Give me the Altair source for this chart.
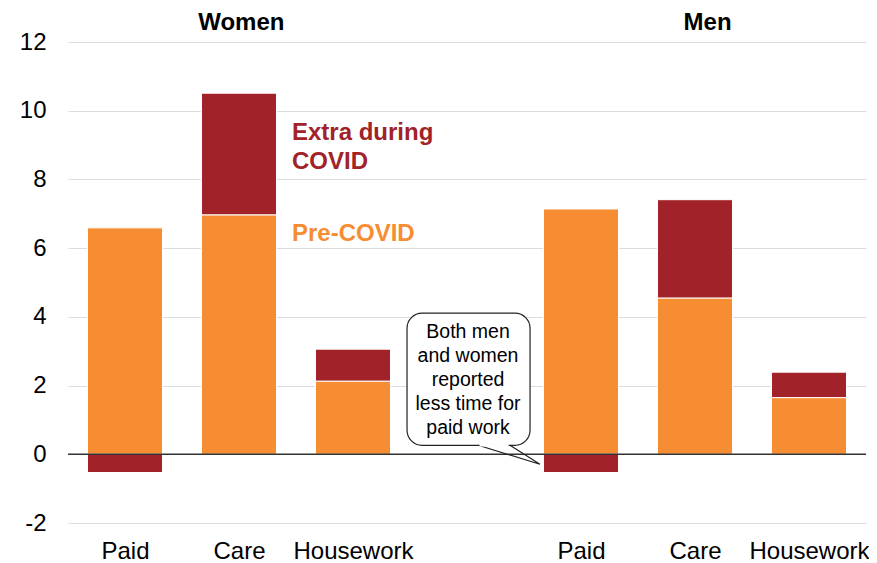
import json
import altair as alt
import pandas as pd

# ---- data ----
groups = ["Women", "Women", "Women", "Men", "Men", "Men"]
activities = ["Paid", "Care", "Housework", "Paid", "Care", "Housework"]
pre_covid = [6.59, 6.97, 2.13, 7.14, 4.55, 1.65]
extra_covid = [-0.53, 3.54, 0.93, -0.53, 2.86, 0.74]
y_ticks = [-2, 0, 2, 4, 6, 8, 10, 12]
x_labels = ["Paid", "Care", "Housework", "", "Paid", "Care", "Housework"]
group_titles = ["Women", "Men"]
callout_lines = ["Both men", "and women", "reported", "less time for", "paid work"]

ORANGE = "#F68D33"
RED = "#A12228"
FONT = "Liberation Sans"

act_order = ["Paid", "Care", "Housework"]
rows = []
for g, a, p, e in zip(groups, activities, pre_covid, extra_covid):
    slot = (0 if g == "Women" else 4) + act_order.index(a)
    rows.append({"slot": slot, "part": "Pre-COVID", "value": p, "ord": 0})
    rows.append({"slot": slot, "part": "Extra during COVID", "value": e, "ord": 1})
df = pd.DataFrame(rows)

x_scale = alt.Scale(domain=[-0.5, 6.5], nice=False, zero=False, padding=0)
y_scale = alt.Scale(domain=[-2, 12], nice=False, padding=0)

x_axis = alt.Axis(values=[0, 1, 2, 4, 5, 6],
                  labelExpr=json.dumps(x_labels) + "[datum.value]",
                  grid=False, ticks=False, domain=False,
                  labelFontSize=24, labelPadding=16, labelColor="black",
                  labelFont=FONT, title=None)
y_axis = alt.Axis(values=y_ticks, grid=True, gridColor="#dcdcdc",
                  gridWidth=1, ticks=False, domain=False,
                  labelExpr="(datum.value < 0 ? '-' : '') + abs(datum.value)",
                  labelFontSize=24, labelPadding=22, labelColor="black",
                  labelFont=FONT, title=None)


def X(field):
    return alt.X(field, type="quantitative", scale=x_scale, axis=x_axis)


def Y(field, **kw):
    return alt.Y(field, type="quantitative", scale=y_scale, axis=y_axis, **kw)


color_scale = alt.Scale(domain=["Pre-COVID", "Extra during COVID"], range=[ORANGE, RED])

bars = alt.Chart(df).mark_bar(size=75, stroke="white", strokeWidth=1).encode(
    x=X("slot"),
    y=Y("value", stack="zero"),
    color=alt.Color("part:N", scale=color_scale, legend=None),
    order=alt.Order("ord:Q"),
)

zero = alt.Chart(pd.DataFrame({"value": [0]})).mark_rule(color="#333333", strokeWidth=1.5).encode(
    y=Y("value")
)

titles = alt.Chart(pd.DataFrame({"t": group_titles, "slot": [1.02, 5.11]})).mark_text(
    font=FONT, fontSize=24, fontWeight="bold", color="black", baseline="middle"
).encode(
    x=X("slot"),
    y=alt.value(-19),
    text="t:N",
)

legend_df = pd.DataFrame({
    "t": ["Extra during", "COVID", "Pre-COVID"],
    "slot": [1.465, 1.465, 1.465],
    "value": [9.35, 8.5, 6.41],
    "part": ["Extra during COVID", "Extra during COVID", "Pre-COVID"],
})
legend_txt = alt.Chart(legend_df).mark_text(
    font=FONT, fontSize=24, fontWeight="bold", align="left", baseline="middle"
).encode(
    x=X("slot"),
    y=Y("value"),
    text="t:N",
    color=alt.Color("part:N", scale=color_scale, legend=None),
)

bubble = alt.Chart(pd.DataFrame({"slot": [2.474], "slot2": [3.553],
                                 "value": [4.107], "value2": [0.262]})).mark_rect(
    fill="white", stroke="#222222", strokeWidth=1.2, cornerRadius=15
).encode(
    x=X("slot"), x2="slot2:Q",
    y=Y("value"), y2="value2:Q",
)

tail = alt.Chart(pd.DataFrame({"slot": [3.099, 3.640, 3.377],
                               "value": [0.262, -0.291, 0.262],
                               "o": [0, 1, 2]})).mark_line(
    color="#222222", strokeWidth=1.2
).encode(
    x=X("slot"),
    y=Y("value"),
    order="o:Q",
)

gap = alt.Chart(pd.DataFrame({"slot": [3.11], "slot2": [3.365], "value": [0.262]})).mark_rule(
    color="white", strokeWidth=2.5
).encode(
    x=X("slot"), x2="slot2:Q",
    y=Y("value"),
)

call_df = pd.DataFrame({"t": callout_lines, "slot": [3.009] * 5,
                        "value": [3.55, 2.85, 2.16, 1.46, 0.76]})
call_txt = alt.Chart(call_df).mark_text(
    font=FONT, fontSize=19.5, color="black", align="center", baseline="middle"
).encode(
    x=X("slot"),
    y=Y("value"),
    text="t:N",
)

chart = alt.layer(bars, zero, titles, legend_txt, bubble, tail, gap, call_txt).properties(
    width=798, height=481,
    autosize=alt.AutoSizeParams(type="none"),
    padding={"left": 60, "top": 34, "right": 3, "bottom": 40},
).configure(font=FONT).configure_view(stroke=None)

chart.save("out.html", embed_options={"renderer": "svg", "actions": False})
